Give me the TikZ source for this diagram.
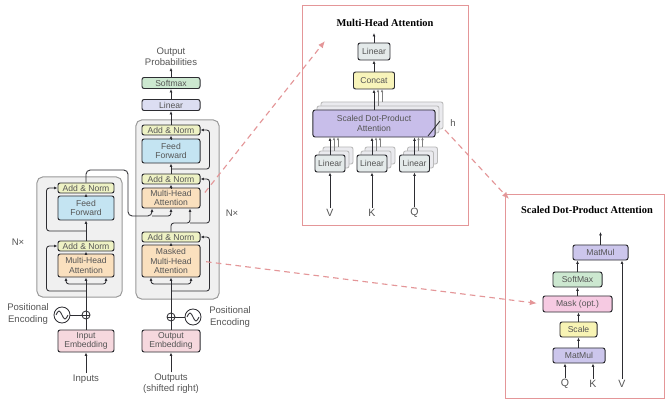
\documentclass[tikz,border=0pt]{standalone}
\usepackage{fontspec}
\setmainfont{Liberation Sans}
\newfontfamily\titlefont{Liberation Serif}
\usepackage{tikz}
\usetikzlibrary{shapes,arrows.meta,positioning,calc}
\usepackage{xcolor}

\definecolor{addnorm}{RGB}{238,242,196}
\definecolor{feedfwd}{RGB}{196,228,242}
\definecolor{attn}{RGB}{250,224,190}
\definecolor{embed}{RGB}{246,216,222}
\definecolor{linear}{RGB}{220,222,242}
\definecolor{softmx}{RGB}{204,232,208}
\definecolor{concat}{RGB}{248,244,186}
\definecolor{sdpa}{RGB}{200,190,234}
\definecolor{mhlin}{RGB}{228,234,234}
\definecolor{matmul}{RGB}{204,198,236}
\definecolor{maskc}{RGB}{246,202,226}
\definecolor{scalec}{RGB}{248,244,180}
\definecolor{stack}{RGB}{234,234,238}
\definecolor{frame}{RGB}{228,150,152}
\definecolor{txtgrey}{RGB}{85,85,85}
\definecolor{boxline}{RGB}{45,45,50}

\newcommand{\boxfont}{\fontsize{6.1}{6.9}\selectfont}
\newcommand{\labelfont}{\fontsize{6.8}{8}\selectfont}

\begin{document}
\begin{tikzpicture}[x=0.025cm, y=-0.025cm,
    blk/.style={draw=boxline, line width=0.7pt, rounded corners=1.5pt, inner sep=0pt, align=center, text=txtgrey, font=\boxfont},
    stackbox/.style={draw=gray!55, fill=stack, line width=0.6pt, rounded corners=1.5pt, inner sep=0pt},
    flow/.style={-{Latex[length=2.4pt,width=2pt]}, line width=0.6pt, draw=boxline},
    ghost/.style={-{Latex[length=2.2pt,width=1.8pt]}, line width=0.5pt, draw=gray},
    wire/.style={line width=0.6pt, draw=boxline},
    container/.style={draw=gray!80, fill=gray!12, line width=0.7pt, rounded corners=4pt, inner sep=0pt},
    panel/.style={draw=frame, line width=0.7pt, fill=white, inner sep=0pt},
    pointer/.style={draw=frame, line width=0.8pt, dash pattern=on 4pt off 3pt, -{Latex[length=5pt,width=4pt]}},
    txt/.style={text=txtgrey, font=\labelfont, align=center, inner sep=1pt},
    title/.style={font=\titlefont\bfseries\fontsize{7.4}{8}\selectfont, text=black, inner sep=0pt},
    wave/.style={circle, draw=boxline, line width=0.6pt, minimum size=0.4cm, inner sep=0pt,
        path picture={\draw[line width=0.6pt, boxline] ($(path picture bounding box.center)+(-6,0)$) sin ($(path picture bounding box.center)+(-3,-4)$) cos ($(path picture bounding box.center)+(0,0)$) sin ($(path picture bounding box.center)+(3,4)$) cos ($(path picture bounding box.center)+(6,0)$);}},
    adder/.style={circle, draw=boxline, line width=0.6pt, minimum size=0.2cm, inner sep=0pt,
        path picture={\draw[line width=0.5pt, boxline] (path picture bounding box.north) -- (path picture bounding box.south) (path picture bounding box.west) -- (path picture bounding box.east);}}
]
\useasboundingbox[fill=white] (0,0) rectangle (666,400);

% encoder
\node[container, minimum width=2.125cm, minimum height=3cm] (encStack) at (79.5,237) {};
\node[blk, fill=addnorm, minimum width=1.4cm, minimum height=0.25cm] (encAN2) at (86,188) {Add \& Norm};
\node[blk, fill=feedfwd, minimum width=1.4cm, minimum height=0.6cm] (encFF) at (86,208) {Feed\\Forward};
\node[blk, fill=addnorm, minimum width=1.4cm, minimum height=0.25cm] (encAN1) at (86,246) {Add \& Norm};
\node[blk, fill=attn, minimum width=1.4cm, minimum height=0.575cm] (encMHA) at (86,265.5) {Multi-Head\\Attention};
\node[txt] (encN) at (18,242) {N×};
\node[adder] (encPlus) at (86,315) {};
\node[wave] (encPE) at (62,315) {};
\node[txt] (encPEtxt) at (28,314) {Positional\\Encoding};
\node[blk, fill=embed, minimum width=1.4cm, minimum height=0.55cm] (encEmb) at (86,341) {Input\\Embedding};
\node[txt] (inputs) at (86,379) {Inputs};

% decoder
\node[container, minimum width=2.075cm, minimum height=4.475cm] (decStack) at (177.5,209.5) {};
\node[blk, fill=addnorm, minimum width=1.45cm, minimum height=0.25cm] (decAN3) at (171,130) {Add \& Norm};
\node[blk, fill=feedfwd, minimum width=1.45cm, minimum height=0.6cm] (decFF) at (171,151) {Feed\\Forward};
\node[blk, fill=addnorm, minimum width=1.45cm, minimum height=0.25cm] (decAN2) at (171,179) {Add \& Norm};
\node[blk, fill=attn, minimum width=1.45cm, minimum height=0.5cm] (decMHA) at (171,198) {Multi-Head\\Attention};
\node[blk, fill=addnorm, minimum width=1.45cm, minimum height=0.25cm] (decAN1) at (171,237) {Add \& Norm};
\node[blk, fill=attn, minimum width=1.45cm, minimum height=0.8cm] (decMMHA) at (171,261) {Masked\\Multi-Head\\Attention};
\node[txt] (decN) at (232,213) {N×};
\node[adder] (decPlus) at (171,317) {};
\node[wave] (decPE) at (193,317) {};
\node[txt] (decPEtxt) at (230,317) {Positional\\Encoding};
\node[blk, fill=embed, minimum width=1.45cm, minimum height=0.55cm] (decEmb) at (171,341) {Output\\Embedding};
\node[txt] (outputs) at (171,384) {Outputs\\(shifted right)};
\node[blk, fill=linear, minimum width=1.45cm, minimum height=0.275cm] (decLin) at (171,105) {Linear};
\node[blk, fill=softmx, minimum width=1.45cm, minimum height=0.275cm] (decSoft) at (171,83) {Softmax};
\node[txt] (outProb) at (171,57) {Output\\Probabilities};

% encoder wiring
\draw[flow] (inputs) -- (encEmb);
\draw[wire] (encEmb) -- (encPlus);
\draw[wire] (encPE) -- (encPlus);
\draw[flow] (encPlus) -- (encMHA);
\coordinate (encSplit) at (86,284);
\draw[flow, rounded corners=2pt] (encSplit) -| ($(encMHA.south)+(-20,0)$);
\draw[flow, rounded corners=2pt] (encSplit) -| ($(encMHA.south)+(20,0)$);
\coordinate (encRes1) at (86,291);
\draw[flow, rounded corners=2pt] (encRes1) -| ($(encAN1.west)+(-11,0)$) -- (encAN1.west);
\draw[flow] (encMHA) -- (encAN1);
\draw[flow] (encAN1) -- (encFF);
\coordinate (encRes2) at (86,231);
\draw[flow, rounded corners=2pt] (encRes2) -| ($(encAN2.west)+(-11,0)$) -- (encAN2.west);
\draw[flow] (encFF) -- (encAN2);
\coordinate (encTurn) at (128,170);
\coordinate (memSplit) at (152,216);
\draw[flow, rounded corners=3pt] (encAN2.north) |- (encTurn) |- (memSplit) -- (memSplit |- decMHA.south);
\draw[flow, rounded corners=2pt] (memSplit) -| (decMHA.south);

% decoder wiring
\draw[flow] (outputs) -- (decEmb);
\draw[wire] (decEmb) -- (decPlus);
\draw[wire] (decPE) -- (decPlus);
\draw[flow] (decPlus) -- (decMMHA);
\coordinate (decSplit) at (171,284);
\draw[flow, rounded corners=2pt] (decSplit) -| ($(decMMHA.south)+(-20,0)$);
\draw[flow, rounded corners=2pt] (decSplit) -| ($(decMMHA.south)+(20,0)$);
\coordinate (decRes1) at (171,291);
\draw[flow, rounded corners=2pt] (decRes1) -| ($(decAN1.east)+(9,0)$) -- (decAN1.east);
\draw[flow] (decMMHA) -- (decAN1);
\coordinate (decKeyIn) at (190,223);
\draw[flow, rounded corners=2pt] (decAN1.north) |- (decKeyIn) -- (decKeyIn |- decMHA.south);
\draw[flow, rounded corners=2pt] (decKeyIn) -| ($(decAN2.east)+(9,0)$) -- (decAN2.east);
\draw[flow] (decMHA) -- (decAN2);
\draw[flow] (decAN2) -- (decFF);
\coordinate (decRes3) at (171,169);
\draw[flow, rounded corners=2pt] (decRes3) -| ($(decAN3.east)+(9,0)$) -- (decAN3.east);
\draw[flow] (decFF) -- (decAN3);
\draw[flow] (decAN3) -- (decLin);
\draw[flow] (decLin) -- (decSoft);
\draw[flow] (decSoft) -- (outProb);

% multi-head attention panel
\node[panel, minimum width=4.125cm, minimum height=5.475cm] (mhPanel) at (385.5,115.5) {};
\node[title] (mhTitle) at (385,23) {Multi-Head Attention};
\node[blk, fill=mhlin, minimum width=0.8cm, minimum height=0.425cm] (mhLin) at (374,51.5) {Linear};
\node[blk, fill=concat, minimum width=1.025cm, minimum height=0.425cm] (mhConcat) at (374,80.5) {Concat};
\foreach \s in {8,4}
  \node[stackbox, minimum width=3.05cm, minimum height=0.675cm] at (374+\s,123.5-\s) {};
\foreach \cx/\nm in {330/V,372/K,414.5/Q} {
  \foreach \s in {8,4} {
    \node[stackbox, minimum width=0.75cm, minimum height=0.425cm] at (\cx+\s,163.5-\s) {};
    \draw[ghost] (\cx+\s,155-\s) -- (\cx+\s,137);
  }
  \node[blk, fill=mhlin, minimum width=0.75cm, minimum height=0.425cm] (mhLin\nm) at (\cx,163.5) {Linear};
  \node[txt, font=\fontsize{7.5}{8}\selectfont] (mhIn\nm) at (\cx,213) {\nm};
  \draw[flow] (mhIn\nm) -- (mhLin\nm);
}
\foreach \s in {8,4}
  \draw[ghost] (374+\s,110-\s) -- (374+\s,89);
\node[blk, fill=sdpa, minimum width=3.05cm, minimum height=0.675cm] (mhSDPA) at (374,123.5) {Scaled Dot-Product\\Attention};
\foreach \nm in {V,K,Q}
  \draw[flow] (mhLin\nm) -- (mhLin\nm |- mhSDPA.south);
\draw[flow] (mhSDPA) -- (mhConcat);
\draw[flow] (mhConcat) -- (mhLin);
\coordinate (mhOut) at (374,33);
\draw[flow] (mhLin) -- (mhOut);
\draw[wire] (428,136) -- (440,121);
\node[txt] (hLbl) at (453,123) {h};

% scaled dot-product attention panel
\node[panel, minimum width=3.95cm, minimum height=5.075cm] (sdPanel) at (585,296.5) {};
\node[title] (sdTitle) at (587,210) {Scaled Dot-Product Attention};
\node[blk, fill=matmul, minimum width=1.375cm, minimum height=0.375cm] (sdMatTop) at (600.5,252.5) {MatMul};
\node[blk, fill=softmx, minimum width=1.225cm, minimum height=0.375cm] (sdSoft) at (577.5,279.5) {SoftMax};
\node[blk, fill=maskc, minimum width=1.725cm, minimum height=0.4cm] (sdMask) at (577.5,304) {Mask (opt.)};
\node[blk, fill=scalec, minimum width=0.925cm, minimum height=0.375cm] (sdScale) at (578.5,329.5) {Scale};
\node[blk, fill=matmul, minimum width=1.3cm, minimum height=0.375cm] (sdMatBot) at (579,355.5) {MatMul};
\node[txt, font=\fontsize{7.5}{8}\selectfont] (sdQ) at (565,384) {Q};
\node[txt, font=\fontsize{7.5}{8}\selectfont] (sdK) at (593,384) {K};
\node[txt, font=\fontsize{7.5}{8}\selectfont] (sdV) at (622,384) {V};
\draw[flow] (sdQ) -- (sdQ |- sdMatBot.south);
\draw[flow] (sdK) -- (sdK |- sdMatBot.south);
\draw[flow] (sdMatBot.north -| sdScale) -- (sdScale);
\draw[flow] (sdScale) -- (sdMask.south -| sdScale);
\draw[flow] (sdMask.north -| sdSoft) -- (sdSoft);
\draw[flow] (sdSoft) -- (sdSoft |- sdMatTop.south);
\draw[flow] (sdV) -- (sdV |- sdMatTop.south);
\coordinate (sdOut) at (600.5,232);
\draw[flow] (sdMatTop) -- (sdOut);

% dashed pointers to the zoomed panels
\coordinate (mhTip) at (325,41);
\coordinate (sdFrom) at (445,130);
\coordinate (sdTip) at (509,199);
\draw[pointer, shorten <=5pt] (decMHA.east) -- (mhTip);
\draw[pointer] (sdFrom) -- (sdTip);
\draw[pointer, shorten <=4pt, shorten >=4pt] (decMMHA.east) -- (sdMask.west);
\end{tikzpicture}
\end{document}
